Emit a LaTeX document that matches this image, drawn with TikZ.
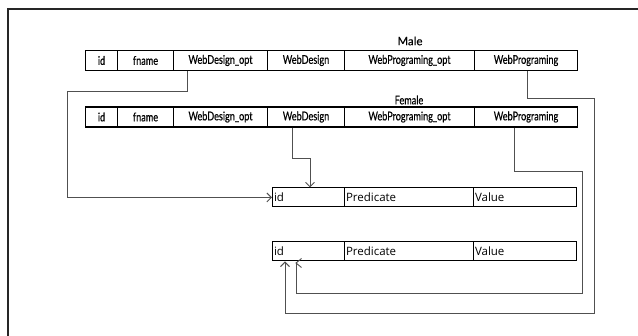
\documentclass[tikz,border=0pt]{standalone}
\usepackage{fontspec}
\setmainfont{Open Sans}
\newfontfamily\gillcond[FakeStretch=0.76,FakeBold=0.5]{Lato}
\newfontfamily\gillnorm[FakeBold=0.3]{Lato}
\usetikzlibrary{arrows.meta,calc}
\definecolor{conncol}{HTML}{505050}
\tikzset{
  hcell/.style={draw=black, line width=1.1pt, minimum height=20pt, inner sep=0pt, font=\gillcond\fontsize{12}{12}\selectfont, anchor=west},
  lcell/.style={draw=black, line width=1pt, minimum height=19pt, inner sep=1.5pt, font=\fontsize{11.5}{12}\selectfont, anchor=west, text width=#1, align=left},
  conn/.style={draw=conncol, line width=0.9pt},
  tip/.style={-{Straight Barb[length=4.5pt,width=9pt,line width=0.9pt]}},
  tlabel/.style={inner sep=0pt}
}
\begin{document}
\begin{tikzpicture}[x=1pt,y=-1pt]
\useasboundingbox (0,0) rectangle (638,336);
% frame
\draw[line width=1.6pt, black!85] (8,340) -- (8,9) -- (642,9);
% Male table
\node[tlabel, font=\gillnorm\fontsize{11.5}{11.5}\selectfont] (male) at (410,41) {Male};
\node[hcell, minimum width=32pt] (m1) at (85,60.5) {id};
\node[hcell, minimum width=56pt] (m2) at (117,60.5) {fname};
\node[hcell, minimum width=94pt] (m3) at (173,60.5) {WebDesign\_opt};
\node[hcell, minimum width=77pt] (m4) at (267,60.5) {WebDesign};
\node[hcell, minimum width=130pt] (m5) at (344,60.5) {WebPrograming\_opt};
\node[hcell, minimum width=103pt] (m6) at (474,60.5) {WebPrograming};
% Female table
\node[tlabel, font=\gillcond\fontsize{12}{12}\selectfont] (female) at (409,100) {Female};
\node[hcell, minimum width=32pt] (f1) at (85,117) {id};
\node[hcell, minimum width=56pt] (f2) at (117,117) {fname};
\node[hcell, minimum width=94pt] (f3) at (173,117) {WebDesign\_opt};
\node[hcell, minimum width=77pt] (f4) at (267,117) {WebDesign};
\node[hcell, minimum width=130pt] (f5) at (344,117) {WebPrograming\_opt};
\node[hcell, minimum width=103pt] (f6) at (474,117) {WebPrograming};
% lower tables
\node[lcell=69pt] (a1) at (272,197.5) {id};
\node[lcell=126pt] (a2) at (344,197.5) {Predicate};
\node[lcell=100pt] (a3) at (473,197.5) {Value};
\node[lcell=69pt] (b1) at (272,251.5) {id};
\node[lcell=126pt] (b2) at (344,251.5) {Predicate};
\node[lcell=100pt] (b3) at (473,251.5) {Value};
% helper coordinates
\coordinate (p1) at (187,0);
\coordinate (c1) at (67,91);
\coordinate (p2) at (292,0);
\coordinate (c2) at (310,158);
\coordinate (p3) at (527,0);
\coordinate (c3) at (594,98);
\coordinate (d3) at (285,313);
\coordinate (p4) at (514,0);
\coordinate (c4) at (582,171);
\coordinate (d4) at (296,293);
\coordinate (e4) at (296,263);
% connectors
\draw[conn, tip] (m3.south -| p1) |- (c1) |- (a1.west);
\draw[conn, tip] (f4.south -| p2) |- (c2) -- (c2 |- a1.north);
\draw[conn, tip] (m6.south -| p3) |- (c3) |- (d3) -- (d3 |- b1.south);
\draw[conn] (f6.south -| p4) |- (c4) |- (d4) -- (e4);
\draw[conn] ($(e4)+(5.5,-4.5)$) -- (e4) -- ($(e4)+(5.5,4.5)$);
\end{tikzpicture}
\end{document}
